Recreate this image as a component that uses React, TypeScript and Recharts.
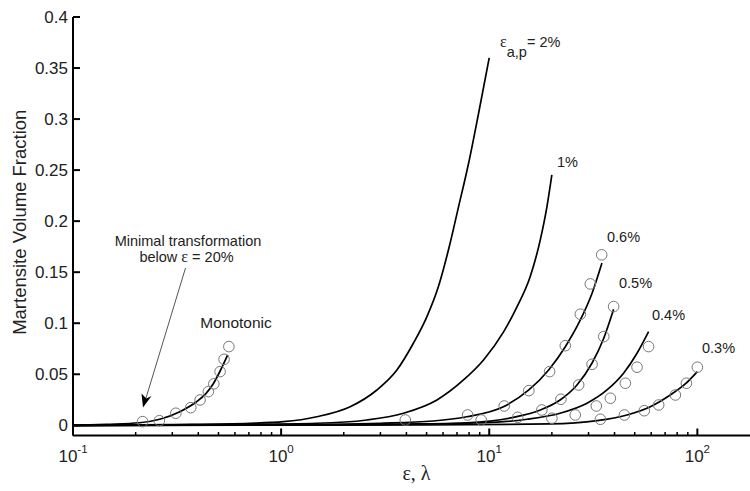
import React from 'react';
import { ComposedChart, Line, Scatter, XAxis, YAxis } from 'recharts';

type Pt = [number, number];

const SANS = '"Liberation Sans", Arial, sans-serif';
const SERIF = '"Liberation Serif", "Times New Roman", serif';

// axis ticks
const xTickValues = [
  0.1, 0.2, 0.3, 0.4, 0.5, 0.6, 0.7, 0.8, 0.9,
  1, 2, 3, 4, 5, 6, 7, 8, 9,
  10, 20, 30, 40, 50, 60, 70, 80, 90,
  100,
];
const yTickValues = [0, 0.05, 0.1, 0.15, 0.2, 0.25, 0.3, 0.35, 0.4];

// model curves (strain / amplitude vs volume fraction)
const monoCurve: Pt[] = [
  [0.1, 0], [0.145, 0.001], [0.209, 0.0025], [0.261, 0.0059], [0.326, 0.0133],
  [0.392, 0.0231], [0.435, 0.031], [0.473, 0.041], [0.508, 0.0527], [0.554, 0.069],
];
const ap2Curve: Pt[] = [
  [0.1, 0], [0.3, 0.0008], [0.709, 0.002], [1.026, 0.0035], [1.484, 0.0084], [2.147, 0.0182],
  [2.885, 0.0346], [3.6, 0.0542], [4.32, 0.0804], [5.02, 0.1065], [5.7, 0.1359],
  [6.37, 0.1719], [7.12, 0.214], [7.95, 0.2562], [8.88, 0.3052], [10, 0.36],
];
const ap1Curve: Pt[] = [
  [0.1, 0], [0.5, 0.0008], [1.484, 0.002], [2.583, 0.0052], [3.873, 0.0118], [5.607, 0.0248],
  [7.523, 0.0444], [9.389, 0.064], [11.72, 0.0915], [13.59, 0.116], [15.74, 0.1457],
  [17.59, 0.1817], [18.94, 0.2143], [20, 0.2454],
];
const ap06Curve: Pt[] = [
  [0.1, 0], [1, 0.0005], [3, 0.002], [5.38, 0.0042], [7.8, 0.0084], [11.7, 0.0182],
  [15.5, 0.0346], [19.3, 0.0542], [23.2, 0.077], [27.4, 0.1032], [31.2, 0.1294], [34.8, 0.159],
];
const ap05Curve: Pt[] = [
  [0.1, 0], [1, 0.0003], [4, 0.0012], [7.8, 0.0025], [13.1, 0.0078], [17.6, 0.015],
  [21.9, 0.0248], [26.4, 0.0395], [31.2, 0.061], [35.5, 0.0853], [39.6, 0.1137],
];
const ap04Curve: Pt[] = [
  [0.1, 0], [2, 0.0003], [9.39, 0.0025], [15.2, 0.0059], [21.9, 0.0118], [29.5, 0.0216],
  [36.8, 0.0346], [44.2, 0.051], [51.3, 0.0706], [58.3, 0.0918],
];
const ap03Curve: Pt[] = [
  [0.1, 0], [5, 0.0003], [19.6, 0.0013], [33, 0.0045], [45.9, 0.0101], [59.4, 0.0182],
  [74.1, 0.0297], [87.5, 0.0405], [100, 0.0526],
];

// measured points
const monoPoints: Pt[] = [
  [0.216, 0.0036], [0.26, 0.0045], [0.312, 0.0118], [0.368, 0.0173], [0.408, 0.0248],
  [0.447, 0.033], [0.475, 0.0406], [0.509, 0.0526], [0.532, 0.0646], [0.561, 0.0771],
];
const ap1Points: Pt[] = [[3.95, 0.0052]];
const ap06Points: Pt[] = [
  [7.87, 0.0101], [11.8, 0.0189], [15.5, 0.034], [19.5, 0.0526], [23.2, 0.078],
  [27.4, 0.1088], [30.6, 0.1385], [34.7, 0.167],
];
const ap05Points: Pt[] = [
  [9.15, 0.0052], [13.7, 0.0078], [17.9, 0.015], [22.1, 0.0255], [26.9, 0.0395],
  [31.2, 0.0598], [35.5, 0.0869], [39.6, 0.1163],
];
const ap04Points: Pt[] = [
  [20.0, 0.0069], [25.9, 0.0101], [32.7, 0.0189], [38.2, 0.0265], [45.1, 0.0412],
  [51.3, 0.0569], [58.3, 0.0771],
];
const ap03Points: Pt[] = [
  [34.2, 0.0059], [44.6, 0.0101], [55.6, 0.0143], [65.2, 0.0199], [78.4, 0.0297],
  [88.6, 0.0412], [100, 0.0569],
];

const curves = [monoCurve, ap2Curve, ap1Curve, ap06Curve, ap05Curve, ap04Curve, ap03Curve];
const pointSets = [monoPoints, ap1Points, ap06Points, ap05Points, ap04Points, ap03Points];

const toXY = (pts: Pt[]) => pts.map(([x, y]) => ({ x, y }));

const isDecade = (v: number) => Math.abs(Math.log10(v) - Math.round(Math.log10(v))) < 1e-9;

const BottomTick = (props: any) => {
  const { x, y, payload } = props;
  const major = isDecade(payload.value);
  return (
    <g>
      <line x1={x} x2={x} y1={y} y2={y - (major ? 7 : 3.5)} stroke="#000" strokeWidth={major ? 2 : 1.5} />
      {major && (
        <text x={x} y={y + 26.5} textAnchor="middle" fontSize={17} fill="#222" fontFamily={SANS}>
          10<tspan dy={-9} fontSize={11.5}>{Math.round(Math.log10(payload.value))}</tspan>
        </text>
      )}
    </g>
  );
};

const TopTick = (props: any) => {
  const { x, y, payload } = props;
  const major = isDecade(payload.value);
  return <line x1={x} x2={x} y1={y} y2={y + (major ? 7 : 3.5)} stroke="#000" strokeWidth={major ? 2 : 1.5} />;
};

const LeftTick = (props: any) => {
  const { x, y, payload } = props;
  return (
    <g>
      <line x1={x + 5} x2={x + 12} y1={y} y2={y} stroke="#000" strokeWidth={2} />
      <text x={x} y={y} dy="0.35em" textAnchor="end" fontSize={17} fill="#222" fontFamily={SANS}>
        {String(payload.value)}
      </text>
    </g>
  );
};

const OpenCircle = (props: any) => (
  <circle cx={props.cx} cy={props.cy} r={5.3} fill="none" stroke="#777" strokeWidth={1} />
);

export default function App() {
  return (
    <div style={{ position: 'fixed', left: 0, top: 0, width: 750, height: 491, overflow: 'hidden', background: '#fff' }}>
      <ComposedChart width={760} height={491} margin={{ top: 17, right: 0, bottom: 0, left: 0 }}>
        <XAxis
          xAxisId="top"
          orientation="top"
          dataKey="x"
          type="number"
          scale="log"
          domain={[0.1, 200]}
          allowDataOverflow
          ticks={xTickValues}
          interval={0}
          height={0}
          tickSize={0}
          tickMargin={0}
          tickLine={false}
          tick={TopTick}
          axisLine={{ stroke: '#000', strokeWidth: 2 }}
        />
        <XAxis
          dataKey="x"
          type="number"
          scale="log"
          domain={[0.1, 200]}
          allowDataOverflow
          ticks={xTickValues}
          interval={0}
          height={55.5}
          tickSize={0}
          tickMargin={0}
          tickLine={false}
          tick={BottomTick}
          axisLine={{ stroke: '#000', strokeWidth: 2 }}
          label={{
            content: (p: any) => {
              const vb = p.viewBox;
              return (
                <text x={vb.x + vb.width / 2} y={vb.y + 44.5} textAnchor="middle" fontSize={20} fill="#222" fontFamily={SERIF}>
                  ε, λ
                </text>
              );
            },
          }}
        />
        <YAxis
          dataKey="y"
          type="number"
          domain={[-0.01, 0.4]}
          allowDataOverflow
          ticks={yTickValues}
          interval={0}
          width={73}
          tickSize={0}
          tickMargin={5}
          tickLine={false}
          tick={LeftTick}
          axisLine={{ stroke: '#000', strokeWidth: 2 }}
          label={{
            content: (p: any) => {
              const vb = p.viewBox;
              const cx = vb.x + 20;
              const cy = vb.y + vb.height / 2 - 4;
              return (
                <text x={cx} y={cy} dy="0.35em" transform={`rotate(-90 ${cx} ${cy})`} textAnchor="middle" fontSize={18.5} fill="#222" fontFamily={SANS}>
                  Martensite Volume Fraction
                </text>
              );
            },
          }}
        />
        {curves.map((c, i) => (
          <Line
            key={`c${i}`}
            data={toXY(c)}
            dataKey="y"
            type="monotone"
            dot={false}
            activeDot={false}
            stroke="#000"
            strokeWidth={1.7}
            isAnimationActive={false}
          />
        ))}
        {pointSets.map((s, i) => (
          <Scatter key={`s${i}`} data={toXY(s)} dataKey="y" shape={OpenCircle} isAnimationActive={false} />
        ))}
      </ComposedChart>

      <svg width={750} height={491} style={{ position: 'absolute', left: 0, top: 0, pointerEvents: 'none' }}>
        <g fontFamily={SANS} fill="#222">
          <text x={500} y={47} fontSize={14.5}>
            <tspan fontFamily={SERIF} fontSize={16}>ε</tspan>
            <tspan dy={10} fontSize={14.5}>a,p</tspan>
            <tspan dy={-10}>= 2%</tspan>
          </text>
          <text x={557} y={167} fontSize={14.5}>1%</text>
          <text x={607} y={242} fontSize={14.5}>0.6%</text>
          <text x={619} y={288} fontSize={14.5}>0.5%</text>
          <text x={652} y={320} fontSize={14.5}>0.4%</text>
          <text x={702} y={353} fontSize={14.5}>0.3%</text>
          <text x={236} y={328} fontSize={15.5} textAnchor="middle">Monotonic</text>
          <text x={188} y={246} fontSize={14.5} textAnchor="middle">Minimal transformation</text>
          <text x={186.5} y={262} fontSize={14.5} textAnchor="middle">
            below <tspan fontFamily={SERIF} fontSize={16}>ε</tspan> = 20%
          </text>
        </g>
        <line x1={185.5} y1={268} x2={146} y2={398} stroke="#555" strokeWidth={1} />
        <polygon points="143,407.5 151.5,396 146.3,398.5 141.5,393.5" fill="#000" />
      </svg>
    </div>
  );
}
